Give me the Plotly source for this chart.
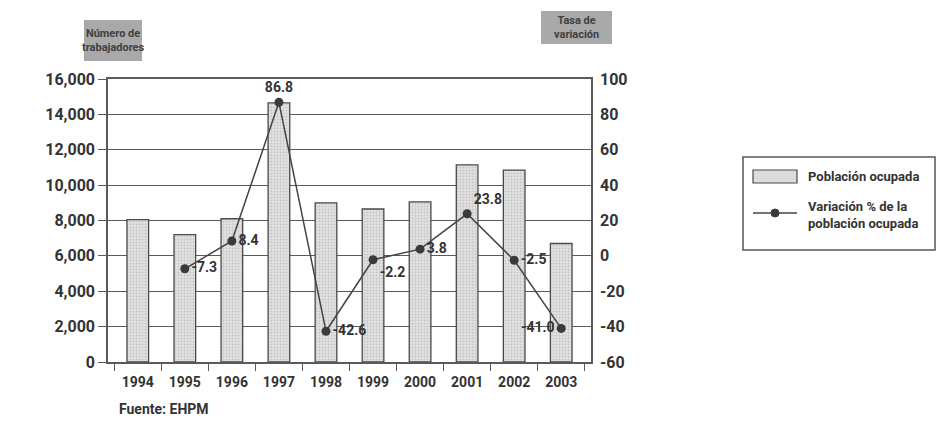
import plotly.graph_objects as go

# Employment data (EHPM)
years = ["1994", "1995", "1996", "1997", "1998", "1999", "2000", "2001", "2002", "2003"]
ocupados = [8050, 7200, 8100, 14650, 9000, 8650, 9050, 11150, 10850, 6700]
variacion = [None, -7.3, 8.4, 86.8, -42.6, -2.2, 3.8, 23.8, -2.5, -41.0]
label_pos = ["middle right", "middle right", "middle right", "top center", "middle right",
             "bottom right", "middle right", "top right", "middle right", "middle left"]

left_ticks = list(range(0, 16001, 2000))
right_ticks = list(range(-60, 101, 20))

FONT = "Roboto, Liberation Sans, sans-serif"
INK = "#333333"
GRID = "#5a5a5a"

# plot-area geometry in pixels, used to place header boxes and the key
L, R, T, B = 108, 591, 79, 362
W, H = 937, 422


def px_x(px):
    return (px - L) / (R - L)


def px_y(py):
    return (B - py) / (B - T)


BAR_MARKER = dict(color="#dcdcdc",
                  line=dict(color="#4a4a4a", width=1.3),
                  pattern=dict(shape=".", fgcolor="#a8a8a8", bgcolor="#e2e2e2",
                               size=3, solidity=0.35))

fig = go.Figure()

fig.add_trace(go.Bar(
    x=years, y=ocupados, name="Población ocupada",
    width=0.46, marker=BAR_MARKER, yaxis="y", showlegend=False,
))

fig.add_trace(go.Scatter(
    x=years, y=variacion, name="Variación % de la población ocupada",
    mode="lines+markers+text",
    line=dict(color="#444444", width=1.5),
    marker=dict(color="#3a3a3a", size=9),
    text=["" if v is None else f"{v:.1f}" for v in variacion],
    textposition=label_pos,
    textfont=dict(family=FONT, size=14, color=INK, weight="bold"),
    yaxis="y2", connectgaps=False, showlegend=False,
))

shapes = []
annotations = []

# header boxes for the two axis titles
headers = [
    ((84, 20, 142, 61), "Número de<br>trabajadores"),
    ((541, 11, 612, 44), "Tasa de<br>variación"),
]
for (x0, y0, x1, y1), txt in headers:
    shapes.append(dict(type="rect", xref="paper", yref="paper",
                       x0=px_x(x0), x1=px_x(x1), y0=px_y(y1), y1=px_y(y0),
                       fillcolor="#a9a9a9", line=dict(width=0), layer="below"))
    annotations.append(dict(xref="paper", yref="paper",
                            x=px_x((x0 + x1) / 2), y=px_y((y0 + y1) / 2),
                            text=txt, showarrow=False, align="center",
                            xanchor="center", yanchor="middle",
                            font=dict(family=FONT, size=11, color="#404040",
                                      weight="bold")))

# key box
shapes.append(dict(type="rect", xref="paper", yref="paper",
                   x0=px_x(743), x1=px_x(935), y0=px_y(250), y1=px_y(157),
                   fillcolor="white", line=dict(color="#555555", width=1.5)))
shapes.append(dict(type="rect", xref="paper", yref="paper",
                   x0=px_x(753), x1=px_x(797), y0=px_y(183), y1=px_y(170),
                   fillcolor="#dcdcdc", line=dict(color="#4a4a4a", width=1.2)))
shapes.append(dict(type="line", xref="paper", yref="paper",
                   x0=px_x(753), x1=px_x(797), y0=px_y(213), y1=px_y(213),
                   line=dict(color="#444444", width=1.5)))
shapes.append(dict(type="circle", xref="paper", yref="paper",
                   x0=px_x(771), x1=px_x(779), y0=px_y(217), y1=px_y(209),
                   fillcolor="#3a3a3a", line=dict(color="#3a3a3a", width=1)))
annotations.append(dict(xref="paper", yref="paper", x=px_x(806), y=px_y(176),
                        text="Población ocupada", showarrow=False,
                        xanchor="left", yanchor="middle", align="left",
                        font=dict(family=FONT, size=13, color=INK, weight="bold")))
annotations.append(dict(xref="paper", yref="paper", x=px_x(806), y=px_y(215),
                        text="Variación % de la<br>población ocupada", showarrow=False,
                        xanchor="left", yanchor="middle", align="left",
                        font=dict(family=FONT, size=13, color=INK, weight="bold")))

annotations.append(dict(xref="paper", yref="paper", x=px_x(117), y=px_y(409),
                        text="Fuente: EHPM", showarrow=False,
                        xanchor="left", yanchor="middle",
                        font=dict(family=FONT, size=14, color=INK, weight="bold")))

fig.update_layout(
    width=W, height=H,
    margin=dict(l=L, r=W - R, t=T, b=H - B),
    paper_bgcolor="white", plot_bgcolor="white",
    font=dict(family=FONT, size=15, color=INK, weight="bold"),
    showlegend=False,
    xaxis=dict(type="category", showgrid=False, showline=True, linecolor=GRID,
               linewidth=1.5, mirror=True, ticks="outside", tickson="boundaries",
               ticklen=7, tickcolor=GRID, tickwidth=1.3, ticklabelstandoff=6,
               tickfont=dict(family=FONT, size=14, color=INK, weight="bold")),
    yaxis=dict(range=[0, 16000], tickvals=left_ticks,
               ticktext=[f"{v:,}" for v in left_ticks],
               showgrid=True, gridcolor=GRID, gridwidth=1.4,
               showline=True, linecolor=GRID, linewidth=1.5, mirror=True,
               ticks="outside", ticklen=8, tickcolor=GRID, tickwidth=1.3,
               tickfont=dict(family=FONT, size=16, color=INK, weight="bold"),
               zeroline=False),
    yaxis2=dict(range=[-60, 100], tickvals=right_ticks,
                ticktext=[str(v) for v in right_ticks], overlaying="y",
                side="right", showgrid=False, zeroline=False, showline=False,
                ticks="", ticklabelstandoff=8,
                tickfont=dict(family=FONT, size=16, color=INK, weight="bold")),
    shapes=shapes,
    annotations=annotations,
)

fig.write_html("out.html")
